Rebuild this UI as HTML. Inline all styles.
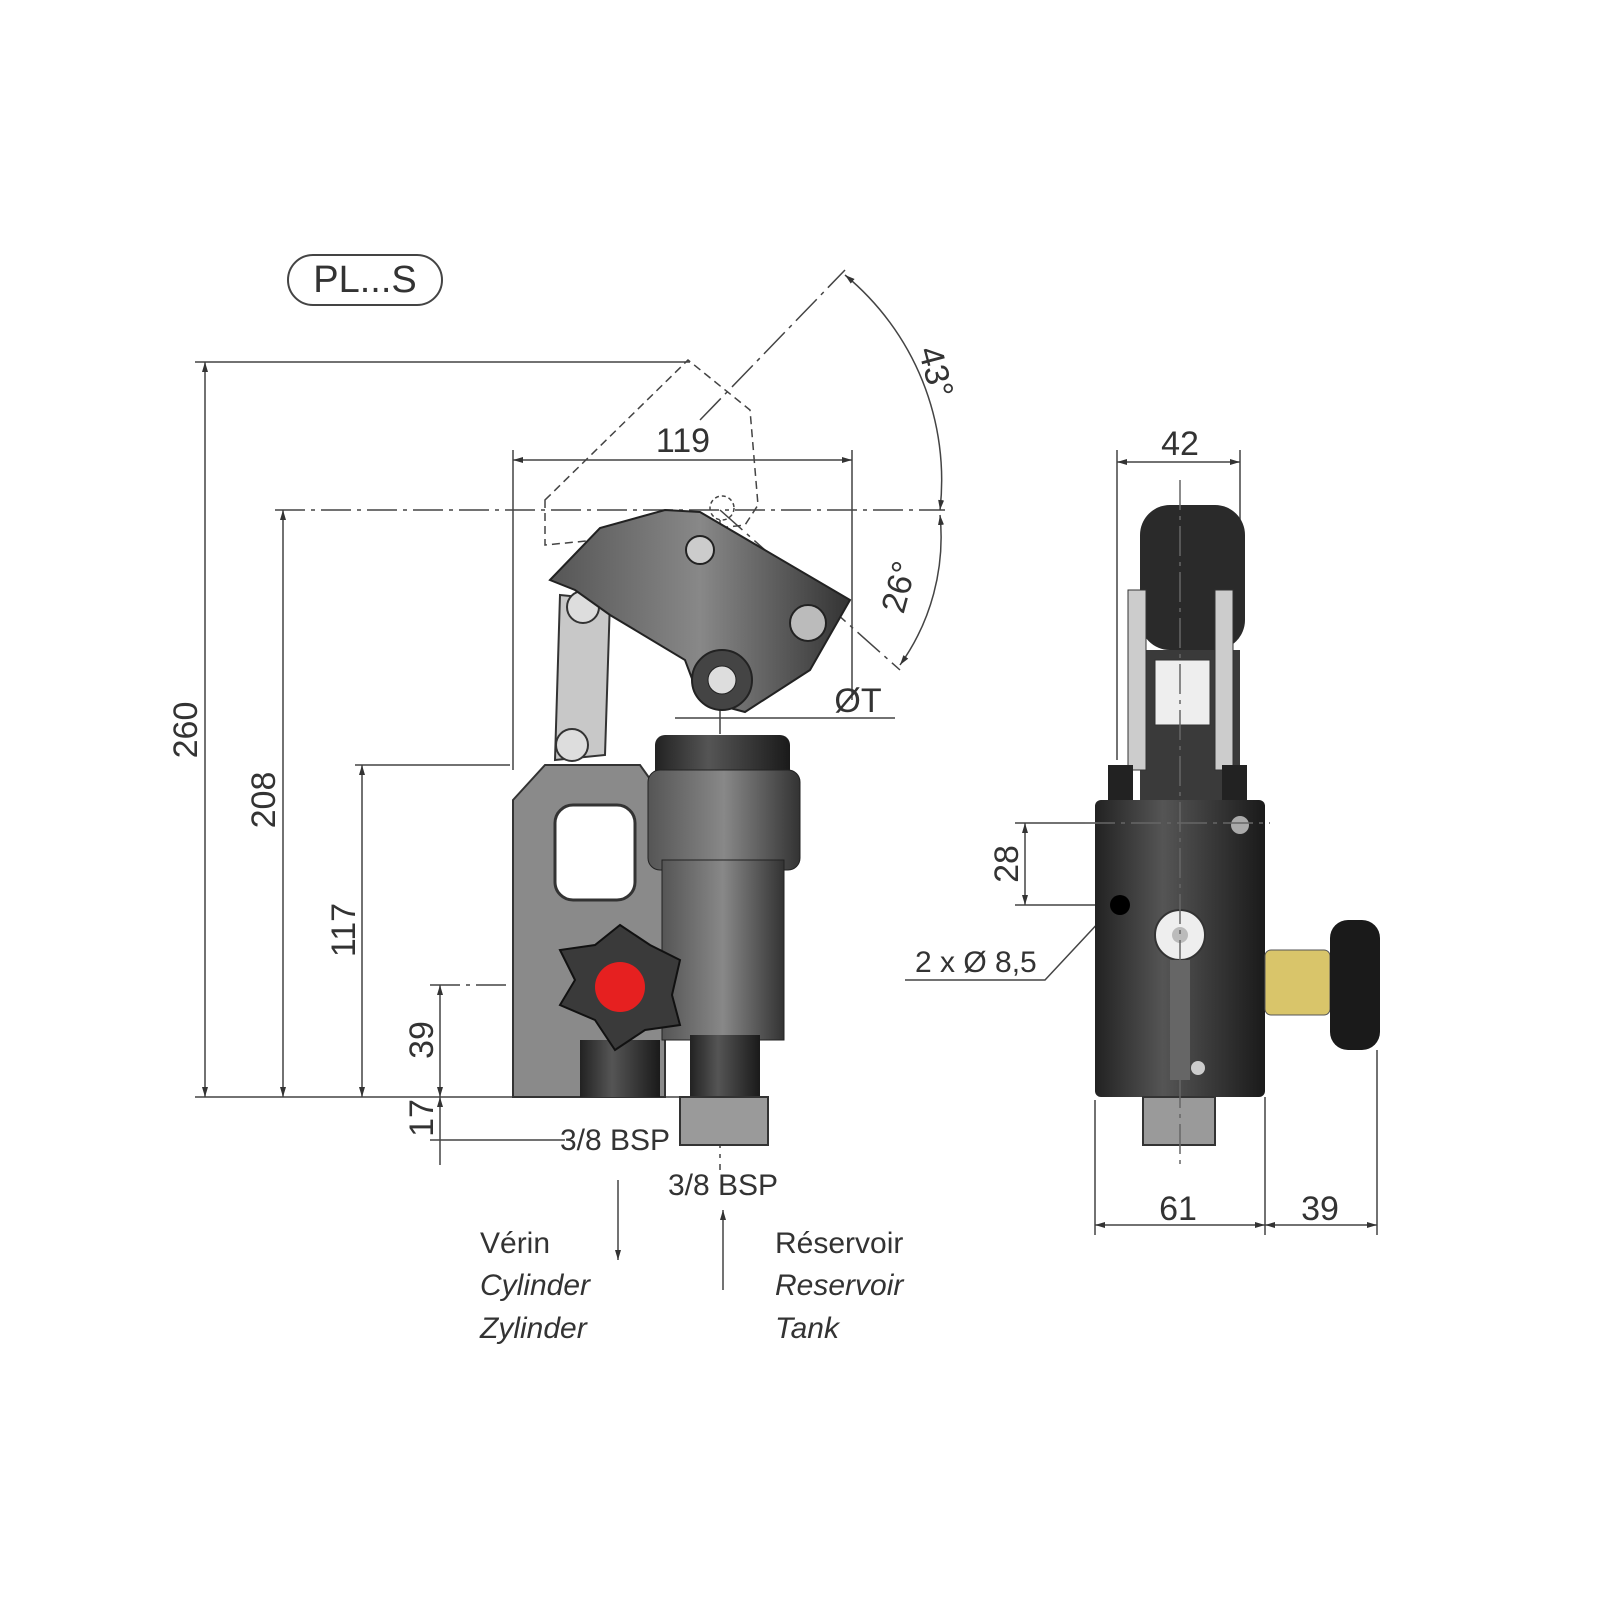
<!DOCTYPE html>
<html><head><meta charset="utf-8"><style>
html,body{margin:0;padding:0;background:#fff}
svg{display:block}
text{font-family:"Liberation Sans Narrow","Liberation Sans",sans-serif;fill:#333}
</style></head><body>
<svg width="1600" height="1600" viewBox="0 0 1600 1600" xmlns="http://www.w3.org/2000/svg">
<defs>
<marker id="a" viewBox="0 0 10 10" refX="10" refY="5" markerWidth="10" markerHeight="10" orient="auto-start-reverse" markerUnits="userSpaceOnUse"><path d="M0,2 L10,5 L0,8z" fill="#333"/></marker>
<linearGradient id="g1" x1="0" x2="1"><stop offset="0" stop-color="#555"/><stop offset=".5" stop-color="#888"/><stop offset="1" stop-color="#333"/></linearGradient>
<linearGradient id="g2" x1="0" x2="1"><stop offset="0" stop-color="#222"/><stop offset=".4" stop-color="#555"/><stop offset="1" stop-color="#1a1a1a"/></linearGradient>
</defs>
<g stroke="#444" stroke-width="1.5" fill="none">
<!-- PL...S pill -->
<rect x="288" y="255" width="154" height="50" rx="25" stroke-width="2"/>
<!-- extension lines -->
<line x1="195" y1="362" x2="690" y2="362"/>
<line x1="275" y1="510" x2="945" y2="510" stroke-dasharray="30,6,4,6"/>
<line x1="355" y1="765" x2="510" y2="765"/>
<line x1="430" y1="985" x2="690" y2="985" stroke-dasharray="30,6,4,6"/>
<line x1="195" y1="1097" x2="680" y2="1097"/>
<line x1="430" y1="1140" x2="565" y2="1140"/>
<line x1="513" y1="450" x2="513" y2="770"/>
<line x1="852" y1="450" x2="852" y2="700"/>
<!-- dims -->
<line x1="205" y1="362" x2="205" y2="1097" marker-start="url(#a)" marker-end="url(#a)"/>
<line x1="283" y1="510" x2="283" y2="1097" marker-start="url(#a)" marker-end="url(#a)"/>
<line x1="362" y1="765" x2="362" y2="1097" marker-start="url(#a)" marker-end="url(#a)"/>
<line x1="440" y1="985" x2="440" y2="1097" marker-start="url(#a)" marker-end="url(#a)"/>
<line x1="440" y1="1097" x2="440" y2="1165" marker-start="url(#a)"/>
<line x1="513" y1="460" x2="852" y2="460" marker-start="url(#a)" marker-end="url(#a)"/>
<!-- dashed handle -->
<path d="M545,500 L688,360 L750,410 L758,505 L745,525 L700,530 L545,545 Z" stroke-dasharray="8,5"/>
<circle cx="722" cy="508" r="12" stroke-dasharray="4,3"/>
<line x1="700" y1="420" x2="845" y2="270" stroke-dasharray="30,6,4,6"/>
<line x1="720" y1="510" x2="900" y2="670" stroke-dasharray="30,6,4,6"/>
<path d="M845,275 A266,266 0 0 1 940,510" marker-start="url(#a)" marker-end="url(#a)"/>
<path d="M940,515 A220,220 0 0 1 900,665" marker-start="url(#a)" marker-end="url(#a)"/>
<line x1="675" y1="718" x2="895" y2="718"/>
<line x1="720" y1="520" x2="720" y2="1170" stroke-dasharray="30,6,4,6"/>
<!-- arrows -->
<line x1="618" y1="1180" x2="618" y2="1260" marker-end="url(#a)"/>
<line x1="723" y1="1290" x2="723" y2="1210" marker-end="url(#a)"/>
<!-- right view dims -->
<line x1="1117" y1="450" x2="1117" y2="760"/>
<line x1="1240" y1="450" x2="1240" y2="520"/>
<line x1="1117" y1="462" x2="1240" y2="462" marker-start="url(#a)" marker-end="url(#a)"/>
<line x1="1015" y1="823" x2="1120" y2="823"/>
<line x1="1015" y1="905" x2="1120" y2="905"/>
<line x1="1025" y1="823" x2="1025" y2="905" marker-start="url(#a)" marker-end="url(#a)"/>
<path d="M905,980 L1045,980 L1115,905"/>
<line x1="1095" y1="1100" x2="1095" y2="1235"/>
<line x1="1265" y1="1097" x2="1265" y2="1235"/>
<line x1="1377" y1="1050" x2="1377" y2="1235"/>
<line x1="1095" y1="1225" x2="1265" y2="1225" marker-start="url(#a)" marker-end="url(#a)"/>
<line x1="1265" y1="1225" x2="1377" y2="1225" marker-start="url(#a)" marker-end="url(#a)"/>
</g>

<!-- left pump -->
<path d="M513,800 L545,765 L640,765 L665,800 L665,1097 L513,1097 Z" fill="#8a8a8a" stroke="#333" stroke-width="2"/>
<rect x="555" y="805" width="80" height="95" rx="18" fill="#fff" stroke="#333" stroke-width="3"/>
<rect x="655" y="735" width="135" height="50" rx="10" fill="url(#g2)"/>
<rect x="648" y="770" width="152" height="100" rx="12" fill="url(#g1)" stroke="#222"/>
<rect x="662" y="860" width="122" height="180" fill="url(#g1)" stroke="#222"/>
<rect x="690" y="1035" width="70" height="62" fill="url(#g2)"/>
<rect x="580" y="1040" width="80" height="57" fill="url(#g2)"/>
<rect x="680" y="1097" width="88" height="48" fill="#9a9a9a" stroke="#333" stroke-width="2"/>
<path d="M560,595 L610,600 L605,755 L555,760 Z" fill="#c8c8c8" stroke="#333" stroke-width="2"/>
<circle cx="583" cy="607" r="16" fill="#ddd" stroke="#333" stroke-width="2"/>
<circle cx="572" cy="745" r="16" fill="#ddd" stroke="#333" stroke-width="2"/>
<path d="M550,580 L600,528 L665,510 L700,512 L850,600 L810,670 L745,712 L700,700 L685,660 L610,615 L575,590 Z" fill="url(#g1)" stroke="#222" stroke-width="2"/>
<circle cx="700" cy="550" r="14" fill="#ccc" stroke="#222" stroke-width="2"/>
<circle cx="808" cy="623" r="18" fill="#bbb" stroke="#222" stroke-width="2"/>
<circle cx="722" cy="680" r="30" fill="#444" stroke="#222" stroke-width="2"/>
<circle cx="722" cy="680" r="14" fill="#ddd" stroke="#222"/>
<path d="M620,925 L650,945 L680,960 L672,995 L680,1025 L645,1030 L615,1050 L595,1020 L560,1005 L575,980 L560,950 L595,945 Z" fill="#3a3a3a" stroke="#111" stroke-width="2"/>
<circle cx="620" cy="987" r="25" fill="#e62020"/>

<!-- right pump -->
<rect x="1140" y="505" width="105" height="145" rx="30" fill="#2a2a2a"/>
<rect x="1140" y="650" width="100" height="150" fill="#3a3a3a"/>
<rect x="1155" y="660" width="55" height="65" fill="#eee" stroke="#333"/>
<rect x="1128" y="590" width="18" height="180" fill="#ccc" stroke="#333"/>
<rect x="1215" y="590" width="18" height="180" fill="#ccc" stroke="#333"/>
<rect x="1108" y="765" width="25" height="35" fill="#222"/>
<rect x="1222" y="765" width="25" height="35" fill="#222"/>
<rect x="1095" y="800" width="170" height="297" rx="6" fill="url(#g2)"/>
<circle cx="1240" cy="825" r="9" fill="#aaa"/>
<circle cx="1120" cy="905" r="10" fill="#000"/>
<circle cx="1180" cy="935" r="25" fill="#eee" stroke="#333" stroke-width="2"/>
<circle cx="1180" cy="935" r="8" fill="#bbb"/>
<rect x="1170" y="960" width="20" height="120" fill="#666"/>
<circle cx="1198" cy="1068" r="7" fill="#ccc"/>
<rect x="1143" y="1097" width="72" height="48" fill="#9a9a9a" stroke="#333" stroke-width="2"/>
<rect x="1265" y="950" width="65" height="65" rx="6" fill="#d9c56a" stroke="#555"/>
<rect x="1330" y="920" width="50" height="130" rx="18" fill="#1a1a1a"/>
<line x1="1180" y1="480" x2="1180" y2="1165" stroke="#666" stroke-width="1.5" stroke-dasharray="30,6,4,6"/>
<line x1="1085" y1="823" x2="1270" y2="823" stroke="#666" stroke-width="1.5" stroke-dasharray="30,6,4,6"/>

<!-- texts -->
<g font-size="34">
<text x="365" y="292" text-anchor="middle" font-size="38">PL...S</text>
<text transform="translate(197,730) rotate(-90)" text-anchor="middle">260</text>
<text transform="translate(275,800) rotate(-90)" text-anchor="middle">208</text>
<text transform="translate(355,930) rotate(-90)" text-anchor="middle">117</text>
<text transform="translate(433,1040) rotate(-90)" text-anchor="middle">39</text>
<text transform="translate(433,1118) rotate(-90)" text-anchor="middle">17</text>
<text x="683" y="452" text-anchor="middle">119</text>
<text transform="translate(925,375) rotate(75)" text-anchor="middle">43°</text>
<text transform="translate(910,590) rotate(-75)" text-anchor="middle">26°</text>
<text x="858" y="712" text-anchor="middle">ØT</text>
<text x="615" y="1150" text-anchor="middle" font-size="30">3/8 BSP</text>
<text x="723" y="1195" text-anchor="middle" font-size="30">3/8 BSP</text>
<text x="480" y="1253" font-size="30">Vérin</text>
<text x="480" y="1295" font-size="30" font-style="italic">Cylinder</text>
<text x="480" y="1338" font-size="30" font-style="italic">Zylinder</text>
<text x="775" y="1253" font-size="30">Réservoir</text>
<text x="775" y="1295" font-size="30" font-style="italic">Reservoir</text>
<text x="775" y="1338" font-size="30" font-style="italic">Tank</text>
<text x="1180" y="455" text-anchor="middle">42</text>
<text transform="translate(1018,864) rotate(-90)" text-anchor="middle">28</text>
<text x="915" y="972" font-size="30">2 x Ø 8,5</text>
<text x="1178" y="1220" text-anchor="middle">61</text>
<text x="1320" y="1220" text-anchor="middle">39</text>
</g>
</svg>
</body></html>
